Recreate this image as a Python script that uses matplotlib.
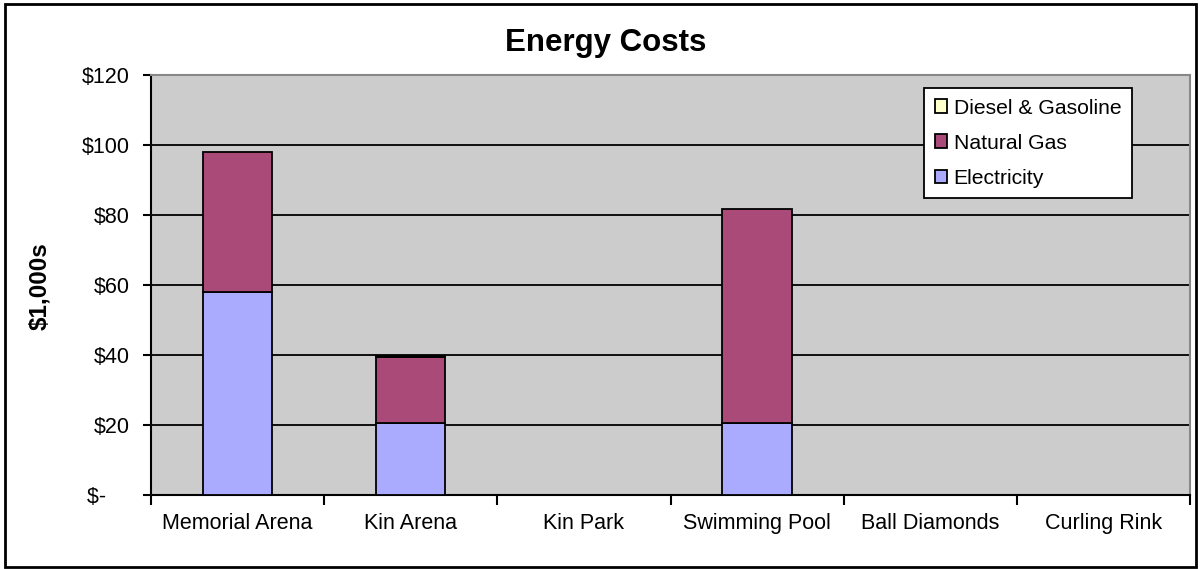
import matplotlib.pyplot as plt
import numpy as np
from matplotlib.patches import Rectangle, Patch

# chart values ($1,000s)
sites = ['Memorial Arena', 'Kin Arena', 'Kin Park', 'Swimming Pool', 'Ball Diamonds', 'Curling Rink']
electricity = [58.1, 20.5, 0, 20.5, 0, 0]
natural_gas = [40.0, 18.8, 0, 61.1, 0, 0]
diesel = [0, 0.3, 0, 0, 0, 0]
yticks = [0, 20, 40, 60, 80, 100, 120]
ytick_labels = ['$-    ', '$20', '$40', '$60', '$80', '$100', '$120']

plt.rcParams['font.family'] = ['Liberation Sans', 'DejaVu Sans']

fig = plt.figure(figsize=(12.01, 5.69), dpi=100)
ax = fig.add_axes([151 / 1201, 1 - 495 / 569, (1190 - 151) / 1201, (495 - 75) / 569])
ax.set_facecolor('#cccccc')

# outer chart border
fig.patches.append(Rectangle((5 / 1201, 2 / 569), 1191 / 1201, 563 / 569, transform=fig.transFigure,
                             fill=False, edgecolor='black', linewidth=2))

x = np.arange(len(sites))
w = 0.4
elec = np.array(electricity)
gas = np.array(natural_gas)
dsl = np.array(diesel)
colors = {'Electricity': '#aaaaff', 'Natural Gas': '#aa4a78', 'Diesel & Gasoline': '#ffffcc'}
b1 = ax.bar(x, elec, w, color=colors['Electricity'], edgecolor='black', linewidth=1.3, zorder=3)
b2 = ax.bar(x, gas, w, bottom=elec, color=colors['Natural Gas'], edgecolor='black', linewidth=1.3, zorder=3)
b3 = ax.bar(x, dsl, w, bottom=elec + gas, color=colors['Diesel & Gasoline'], edgecolor='black',
            linewidth=1.3, zorder=3)
# hide outlines of empty bars
for bars, vals in [(b1, elec), (b2, gas), (b3, dsl)]:
    for b, v in zip(bars, vals):
        if v == 0:
            b.set_visible(False)

ax.set_xlim(-0.5, len(sites) - 0.5)
ax.set_ylim(0, 120)
ax.set_yticks(yticks)
ax.set_yticklabels(ytick_labels, fontsize=15.5)
ax.yaxis.grid(True, color='black', linewidth=1.3, zorder=1)
ax.set_axisbelow(True)

ax.set_xticks(x)
ax.set_xticklabels(sites, fontsize=15.5)
ax.tick_params(axis='x', length=0, pad=13)
ax.set_xticks(np.arange(len(sites) + 1) - 0.5, minor=True)
ax.tick_params(axis='x', which='minor', length=7, width=1.5, direction='out')
ax.tick_params(axis='y', length=6, width=1.5, direction='out', pad=9)

for s in ['top', 'right']:
    ax.spines[s].set_color('#888888')
    ax.spines[s].set_linewidth(1.5)
for s in ['left', 'bottom']:
    ax.spines[s].set_color('black')
    ax.spines[s].set_linewidth(1.5)

fig.text(606 / 1201, 1 - 43 / 569, 'Energy Costs', fontsize=22.5, fontweight='bold', ha='center', va='center')
fig.text(40 / 1201, 1 - 286 / 569, '$1,000s', fontsize=17.5, fontweight='bold', rotation=90,
         ha='center', va='center')

labels = ['Diesel & Gasoline', 'Natural Gas', 'Electricity']
handles = [Patch(facecolor=colors[l], edgecolor='black', linewidth=1.3) for l in labels]
leg = ax.legend(handles, labels, loc='upper left',
                bbox_to_anchor=((924 - 151) / 1039, (495 - 88) / 420), fontsize=15.2,
                frameon=True, fancybox=False, framealpha=1, edgecolor='black',
                handlelength=0.6, handleheight=0.6, handletextpad=0.3, borderpad=0.5,
                labelspacing=0.76, borderaxespad=0)
leg.get_frame().set_linewidth(1.3)
leg.set_zorder(5)

fig.savefig('out.png', dpi=100, facecolor='white')
